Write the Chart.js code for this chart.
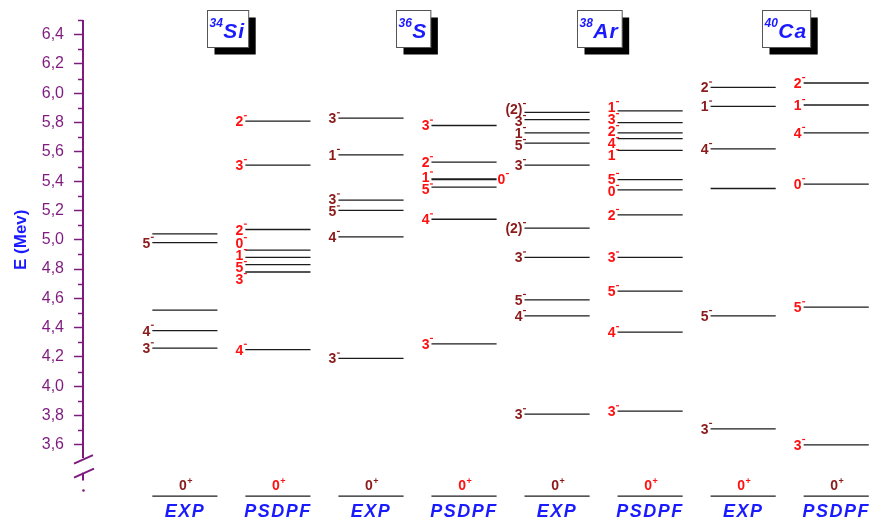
<!DOCTYPE html>
<html lang="en">
<head>
    <meta charset="UTF-8">
    <title>Negative parity states</title>
    <style>
        * { margin: 0; padding: 0; box-sizing: border-box; }
        body { background: #ffffff; }
        .chart-container { position: relative; width: 875px; height: 523px; }
    </style>
</head>
<body>
    <div class="chart-container">
        <canvas id="levelChart"></canvas>
    </div>

    <script src="https://cdn.jsdelivr.net/npm/chart.js"></script>
    <script>
        // Nuclei and columns
        const nucleusMass = ['34', '36', '38', '40'];
        const nucleusSymbol = ['Si', 'S', 'Ar', 'Ca'];
        const columnLabels = ['EXP', 'PSDPF', 'EXP', 'PSDPF', 'EXP', 'PSDPF', 'EXP', 'PSDPF'];
        const yTicks = [3.6, 3.8, 4.0, 4.2, 4.4, 4.6, 4.8, 5.0, 5.2, 5.4, 5.6, 5.8, 6.0, 6.2, 6.4];

        // Level energies (MeV) and spin-parity
        const si34ExpE = [5.04, 4.98, 4.52, 4.38, 4.26];
        const si34ExpJ = ['', '5-', '', '4-', '3-'];
        const si34ThE = [5.81, 5.51, 5.07, 4.93, 4.88, 4.83, 4.78, 4.25];
        const si34ThJ = ['2-', '3-', '2-', '0-', '1-', '5-', '3-', '4-'];

        const s36ExpE = [5.83, 5.58, 5.27, 5.20, 5.02, 4.19];
        const s36ExpJ = ['3-', '1-', '3-', '5-', '4-', '3-'];
        const s36ThE = [5.78, 5.53, 5.41, 5.415, 5.36, 5.14, 4.29];
        const s36ThJ = ['3-', '2-', '1-', '0-', '5-', '4-', '3-'];

        const ar38ExpE = [5.87, 5.82, 5.73, 5.66, 5.51, 5.08, 4.88, 4.59, 4.48, 3.81];
        const ar38ExpJ = ['(2)-', '3-', '1-', '5-', '3-', '(2)-', '3-', '5-', '4-', '3-'];
        const ar38ThE = [5.88, 5.80, 5.73, 5.69, 5.61, 5.41, 5.34, 5.17, 4.88, 4.65, 4.37, 3.83];
        const ar38ThJ = ['1-', '3-', '2-', '4-', '1-', '5-', '0-', '2-', '3-', '5-', '4-', '3-'];

        const ca40ExpE = [6.04, 5.91, 5.62, 5.35, 4.48, 3.71];
        const ca40ExpJ = ['2-', '1-', '4-', '', '5-', '3-'];
        const ca40ThE = [6.07, 5.92, 5.73, 5.38, 4.54, 3.60];
        const ca40ThJ = ['2-', '1-', '4-', '0-', '5-', '3-'];

        const groundJ = ['0+', '0+', '0+', '0+', '0+', '0+', '0+', '0+'];

        const columns = [
            { E: si34ExpE, J: si34ExpJ }, { E: si34ThE, J: si34ThJ },
            { E: s36ExpE, J: s36ExpJ }, { E: s36ThE, J: s36ThJ },
            { E: ar38ExpE, J: ar38ExpJ }, { E: ar38ThE, J: ar38ThJ },
            { E: ca40ExpE, J: ca40ExpJ }, { E: ca40ThE, J: ca40ThJ }
        ];

        // Plot geometry (axis is broken: ground states drawn below the break)
        const GROUND_POS = 3.251;
        const HALF = 0.35;
        const purple = '#7f1a7f';
        const blue = '#1a1aff';
        const darkRed = '#8b1a1a';
        const red = '#ff1010';
        const spinColors = [darkRed, red, darkRed, red, darkRed, red, darkRed, red];
        const groundColors = [darkRed, red, darkRed, red, darkRed, red, red, darkRed];
        const FONT = '"Liberation Sans", Arial, sans-serif';

        const datasets = columns.map((col, c) => {
            const pts = [];
            col.E.concat([GROUND_POS]).forEach(e => {
                pts.push({ x: c - HALF, y: e }, { x: c + HALF, y: e }, { x: c, y: null });
            });
            return {
                data: pts,
                showLine: true,
                borderColor: '#1c1c1c',
                borderWidth: 1.3,
                pointRadius: 0,
                spanGaps: false
            };
        });

        function drawSpin(ctx, text, x, y, color, side) {
            const j = text.slice(0, -1);
            ctx.font = 'bold 14px ' + FONT;
            const jw = ctx.measureText(j).width;
            const total = jw + 4;
            const left = side === 'right' ? x + 1 : x + 2 - total;
            ctx.fillStyle = color;
            ctx.textAlign = 'left';
            ctx.textBaseline = 'alphabetic';
            ctx.fillText(j, left, y + 5);
            // parity as a small raised dash
            ctx.fillRect(left + jw + 0.5, y - 6, 3, 1.2);
        }

        const levelPlugin = {
            id: 'levelPlugin',
            afterDraw(chart) {
                const ctx = chart.ctx;
                const xs = chart.scales.x;
                const ys = chart.scales.y;
                const ax = chart.chartArea.left;
                ctx.save();

                // broken energy axis
                ctx.strokeStyle = purple;
                ctx.lineWidth = 2;
                ctx.beginPath();
                ctx.moveTo(ax, ys.getPixelForValue(6.5));
                ctx.lineTo(ax, ys.getPixelForValue(3.51));
                ctx.stroke();
                ctx.lineWidth = 1.5;
                yTicks.forEach(t => {
                    const py = Math.round(ys.getPixelForValue(t + 0.1)) + 0.5;
                    ctx.beginPath();
                    ctx.moveTo(ax - 5, py);
                    ctx.lineTo(ax, py);
                    ctx.stroke();
                });
                const yb = ys.getPixelForValue(3.5);
                ctx.lineWidth = 2;
                ctx.beginPath();
                ctx.moveTo(ax - 9, yb + 4); ctx.lineTo(ax + 10, yb - 4.5);
                ctx.moveTo(ax - 9, yb + 18); ctx.lineTo(ax + 11, yb + 9);
                ctx.moveTo(ax, yb + 13); ctx.lineTo(ax, yb + 21);
                ctx.stroke();
                ctx.fillStyle = purple;
                ctx.beginPath();
                ctx.arc(ax + 0.5, yb + 31, 1.3, 0, Math.PI * 2);
                ctx.fill();

                // axis title
                ctx.save();
                ctx.translate(21, (ys.getPixelForValue(6.5) + yb) / 2);
                ctx.rotate(-Math.PI / 2);
                ctx.font = 'bold 17px ' + FONT;
                ctx.fillStyle = blue;
                ctx.textAlign = 'center';
                ctx.textBaseline = 'middle';
                ctx.fillText('E (Mev)', 0, 0);
                ctx.restore();

                // spin labels
                columns.forEach((col, c) => {
                    const xStart = xs.getPixelForValue(c - HALF);
                    const xEnd = xs.getPixelForValue(c + HALF);
                    const labels = [];
                    col.E.forEach((e, i) => {
                        if (!col.J[i]) return;
                        const prev = i > 0 ? col.E[i - 1] : null;
                        const side = prev !== null && Math.abs(prev - e) < 0.02 ? 'right' : 'left';
                        labels.push({ text: col.J[i], y: ys.getPixelForValue(e), side });
                    });
                    const left = labels.filter(l => l.side === 'left').sort((a, b) => a.y - b.y);
                    for (let it = 0; it < 60; it++) {
                        for (let k = 1; k < left.length; k++) {
                            const gap = left[k].y - left[k - 1].y;
                            if (gap < 12) {
                                const d = (12 - gap) / 2;
                                left[k].y += d;
                                left[k - 1].y -= d;
                            }
                        }
                    }
                    labels.forEach(l => {
                        drawSpin(ctx, l.text, l.side === 'right' ? xEnd : xStart, l.y, spinColors[c], l.side);
                    });

                    // ground state
                    const xc = xs.getPixelForValue(c);
                    const gy = ys.getPixelForValue(GROUND_POS);
                    const gj = groundJ[c];
                    ctx.font = 'bold 14px ' + FONT;
                    const w0 = ctx.measureText(gj.slice(0, -1)).width;
                    ctx.fillStyle = groundColors[c];
                    ctx.textAlign = 'left';
                    ctx.textBaseline = 'alphabetic';
                    ctx.fillText(gj.slice(0, -1), xc - w0 / 2 - 2, gy - 6);
                    ctx.font = 'bold 9px ' + FONT;
                    ctx.fillText(gj.slice(-1), xc + w0 / 2 - 1.5, gy - 12);

                    // column label
                    ctx.font = 'italic bold 18px ' + FONT;
                    ctx.letterSpacing = '1.5px';
                    ctx.fillStyle = blue;
                    ctx.textAlign = 'center';
                    ctx.fillText(columnLabels[c], xc, 517);
                    ctx.letterSpacing = '0px';
                });

                // nucleus boxes
                nucleusMass.forEach((m, k) => {
                    const cx = (xs.getPixelForValue(2 * k) + xs.getPixelForValue(2 * k + 1)) / 2 - 4;
                    ctx.font = 'italic bold 12px ' + FONT;
                    const mw = ctx.measureText(m).width;
                    ctx.font = 'italic bold 21px ' + FONT;
                    ctx.letterSpacing = '1px';
                    const sw = ctx.measureText(nucleusSymbol[k]).width;
                    ctx.letterSpacing = '0px';
                    const w = mw + sw + 6;
                    const h = 37;
                    const bx = Math.round(cx - w / 2) + 0.5;
                    const by = 10.5;
                    ctx.fillStyle = '#000';
                    ctx.fillRect(bx + 7, by + 7, w, h);
                    ctx.fillStyle = '#fff';
                    ctx.fillRect(bx, by, w, h);
                    ctx.strokeStyle = '#555';
                    ctx.lineWidth = 1;
                    ctx.strokeRect(bx, by, w, h);
                    ctx.fillStyle = blue;
                    ctx.textAlign = 'left';
                    ctx.textBaseline = 'alphabetic';
                    ctx.font = 'italic bold 12px ' + FONT;
                    ctx.fillText(m, bx + 2, by + 16);
                    ctx.font = 'italic bold 21px ' + FONT;
                    ctx.letterSpacing = '1px';
                    ctx.fillText(nucleusSymbol[k], bx + 2.5 + mw, by + 27.5);
                    ctx.letterSpacing = '0px';
                });

                ctx.restore();
            }
        };

        const ctx = document.getElementById('levelChart').getContext('2d');
        const levelChart = new Chart(ctx, {
            type: 'scatter',
            data: { datasets: datasets },
            options: {
                responsive: true,
                maintainAspectRatio: false,
                animation: false,
                layout: { padding: { top: 20, right: 0, bottom: 0, left: 0 } },
                plugins: {
                    legend: { display: false },
                    tooltip: { enabled: false }
                },
                scales: {
                    x: {
                        type: 'linear',
                        display: false,
                        min: -1.095,
                        max: 7.417
                    },
                    y: {
                        type: 'linear',
                        min: 3.067,
                        max: 6.5,
                        afterBuildTicks: scale => {
                            scale.ticks = yTicks.map(v => ({ value: v }));
                        },
                        afterFit: scale => {
                            scale.width = 83;
                            scale.paddingTop = 0;
                            scale.paddingBottom = 0;
                        },
                        border: { display: false },
                        grid: {
                            display: true,
                            drawOnChartArea: false,
                            drawTicks: true,
                            tickLength: 9,
                            tickColor: purple,
                            tickWidth: 1.5
                        },
                        ticks: {
                            color: purple,
                            padding: 10,
                            font: { family: FONT, size: 16 },
                            callback: v => v.toFixed(1).replace('.', ',')
                        }
                    }
                }
            },
            plugins: [levelPlugin]
        });
    </script>
</body>
</html>
